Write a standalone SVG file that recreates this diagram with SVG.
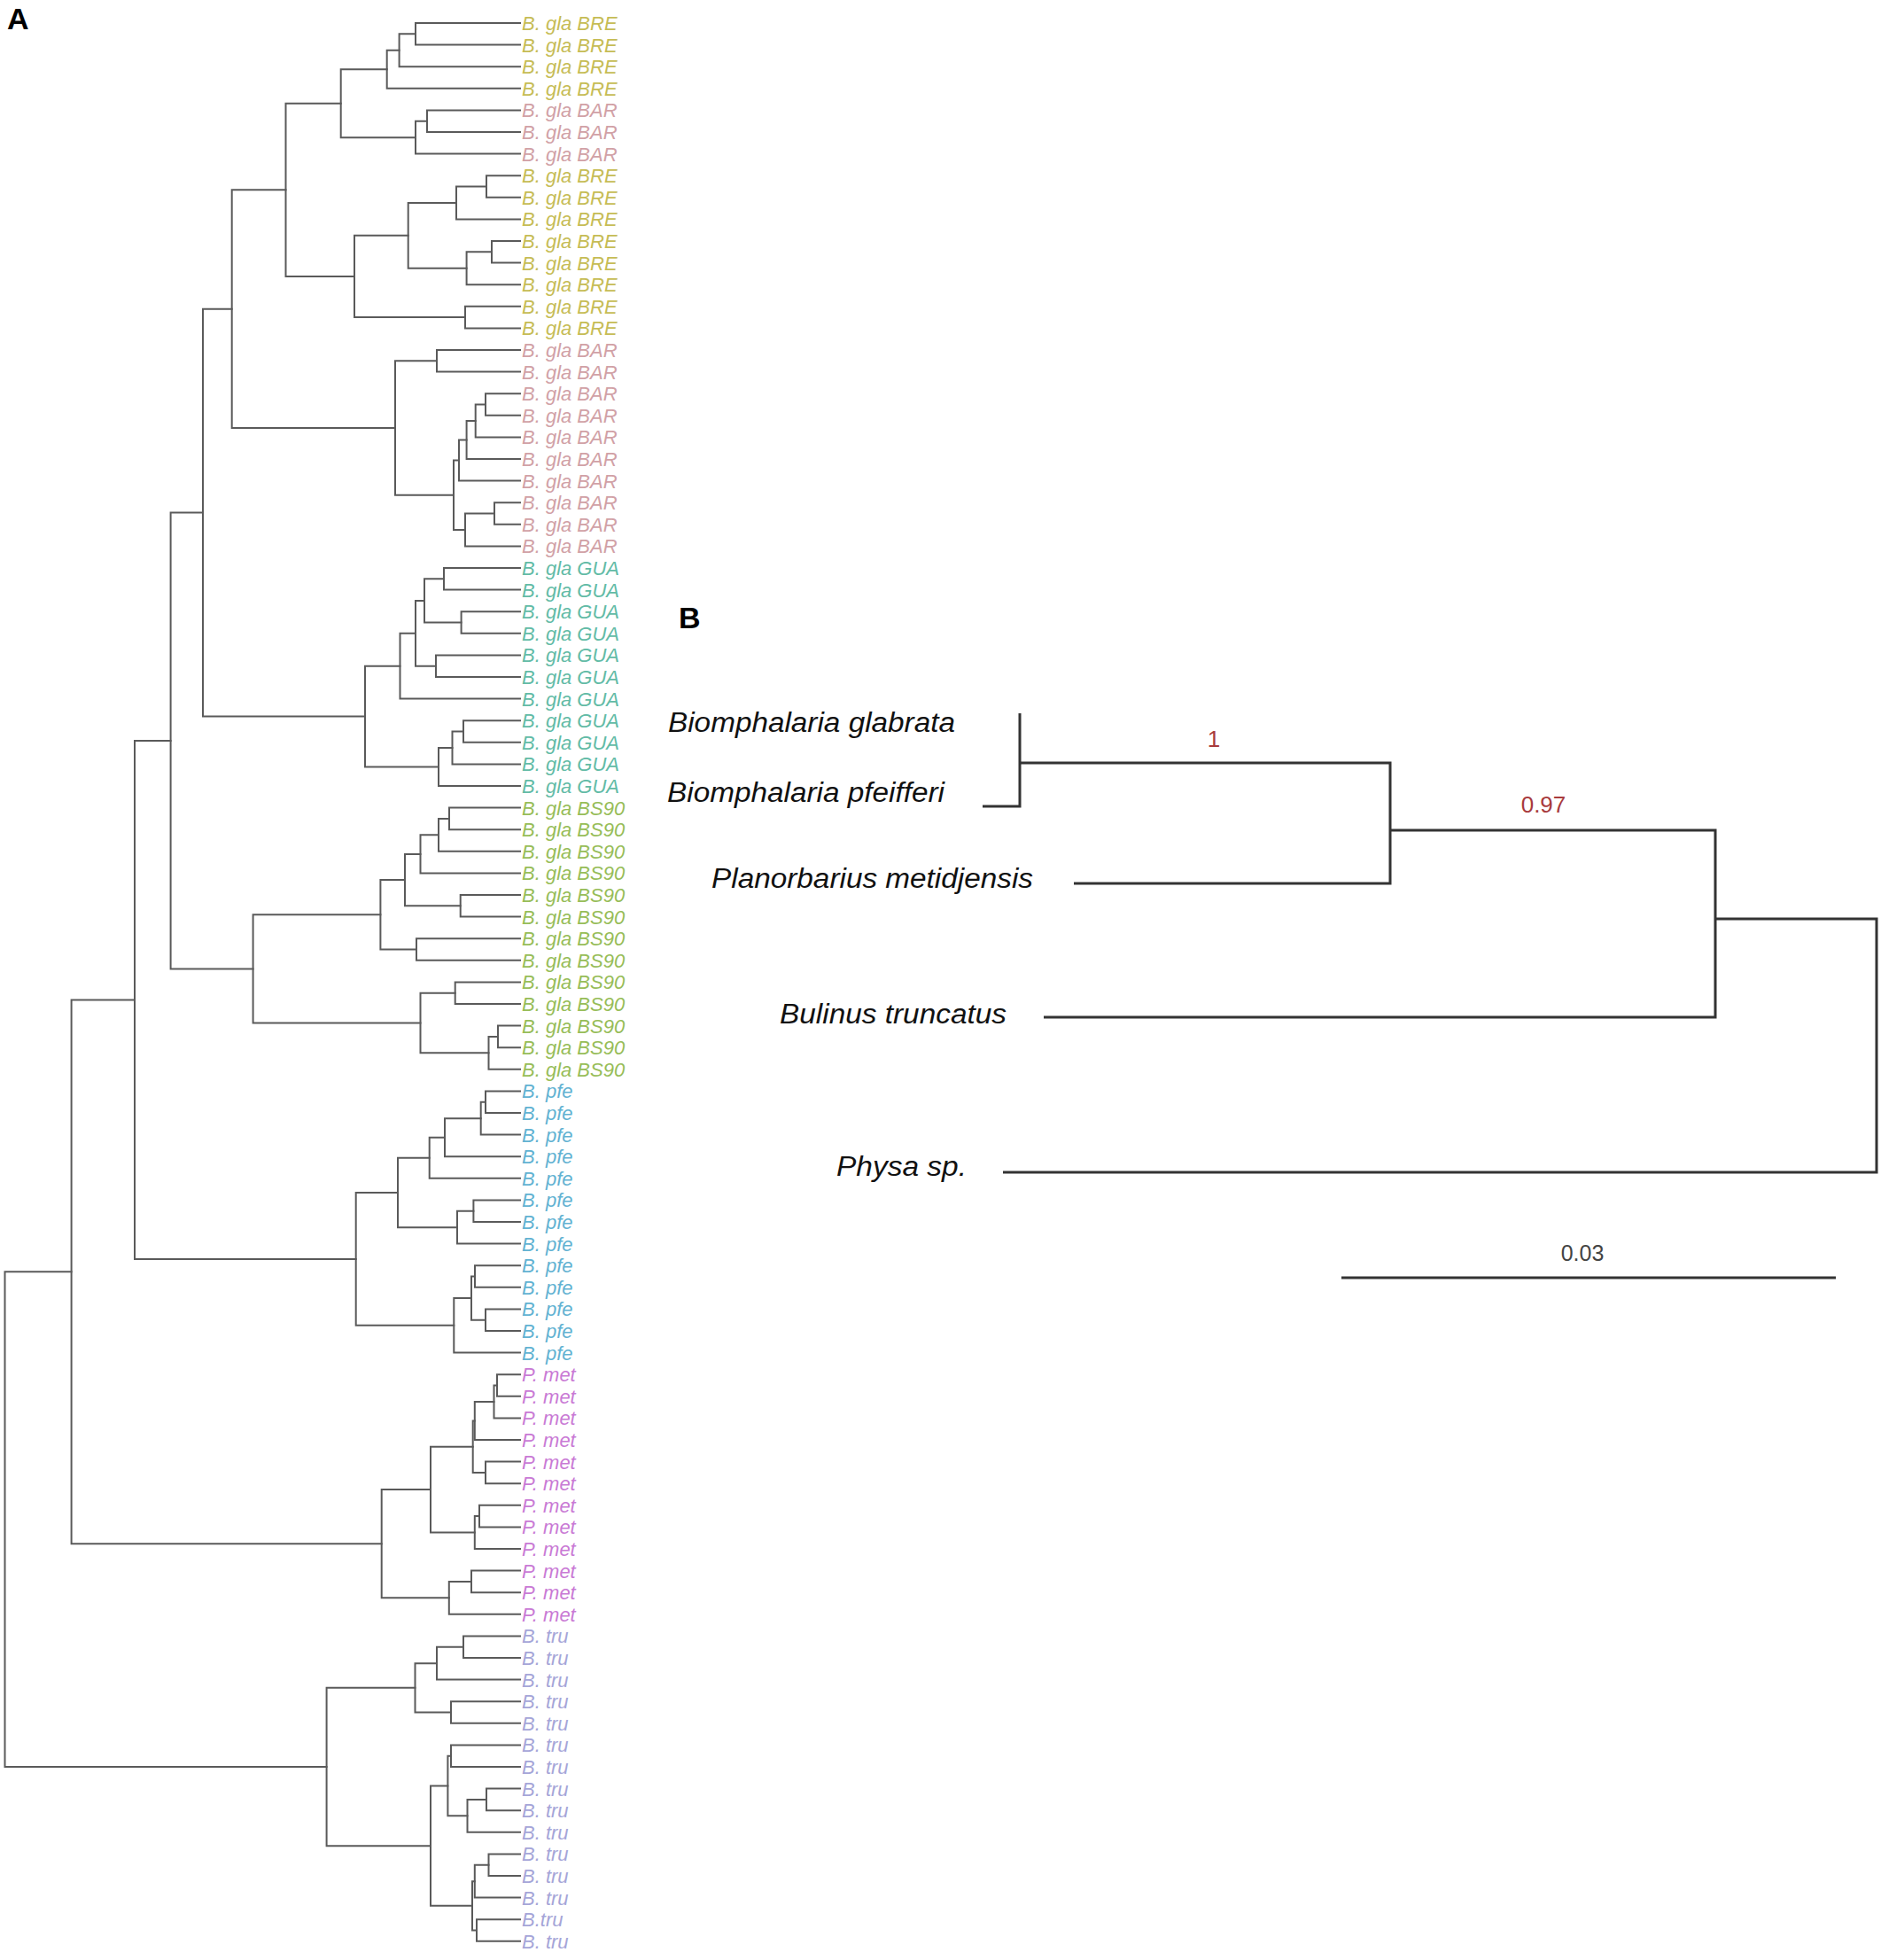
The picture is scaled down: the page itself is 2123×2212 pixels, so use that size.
<svg xmlns="http://www.w3.org/2000/svg" width="2123" height="2212" viewBox="0 0 2123 2212">
<style>
.bg{fill:#fff}
.tr{fill:none;stroke:#5a5a5a;stroke-width:2;stroke-linecap:square}
.trB{fill:none;stroke:#333;stroke-width:3}
.lf{font-family:"Liberation Sans",Arial,sans-serif;font-style:italic;font-size:22px}
.bre{fill:#c6bc55}.bar{fill:#d1a1a6}.gua{fill:#62bba6}.bs90{fill:#97bd58}.pfe{fill:#62b2d2}.met{fill:#c97ad5}.tru{fill:#a5a5d8}
.sp{font-family:"Liberation Sans",Arial,sans-serif;font-style:italic;font-size:31px;fill:#111}
.sup{font-family:"Liberation Sans",Arial,sans-serif;font-size:26px;fill:#a83a3c}
.pl{font-family:"Liberation Sans",Arial,sans-serif;font-weight:bold;font-size:34px;fill:#000}
.sc{font-family:"Liberation Sans",Arial,sans-serif;font-size:25px;fill:#444}
</style>
<rect class="bg" width="2123" height="2212"/>
<text class="pl" x="8" y="33">A</text>
<text class="pl" x="766" y="709">B</text>
<g id="connectors-A" class="tr">
<path d="M587 26H469V50.6H587"/>
<path d="M469 38.3H450.6V75.2H587"/>
<path d="M450.6 56.75H436.7V99.8H587"/>
<path d="M587 124.4H482V149H587"/>
<path d="M482 136.7H469V173.6H587"/>
<path d="M436.7 78.3H384.7V155.15H469"/>
<path d="M587 198.2H549V222.8H587"/>
<path d="M549 210.5H515V247.4H587"/>
<path d="M587 272H555V296.6H587"/>
<path d="M555 284.3H526.6V321.2H587"/>
<path d="M515 228.95H460.7V302.75H526.6"/>
<path d="M587 345.8H525V370.4H587"/>
<path d="M460.7 265.85H400V358.1H525"/>
<path d="M384.7 116.7H322.5V311.98H400"/>
<path d="M587 395H493V419.6H587"/>
<path d="M587 444.2H548V468.8H587"/>
<path d="M548 456.5H536.7V493.4H587"/>
<path d="M536.7 474.95H526.6V518H587"/>
<path d="M526.6 496.5H518V542.6H587"/>
<path d="M587 567.2H558V591.8H587"/>
<path d="M558 579.5H525V616.4H587"/>
<path d="M518 519.55H512V597.95H525"/>
<path d="M493 407.3H446V558.75H512"/>
<path d="M322.5 214.3H261.7V483H446"/>
<path d="M587 641H501V665.6H587"/>
<path d="M587 690.2H520.6V714.8H587"/>
<path d="M501 653.3H479V702.5H520.6"/>
<path d="M587 739.4H492V764H587"/>
<path d="M479 677.9H469V751.7H492"/>
<path d="M469 714.8H451.5V788.6H587"/>
<path d="M587 813.2H523V837.8H587"/>
<path d="M523 825.5H510.5V862.4H587"/>
<path d="M510.5 843.95H495V887H587"/>
<path d="M451.5 751.7H412V865.5H495"/>
<path d="M261.7 348.65H229V808.6H412"/>
<path d="M587 911.6H507V936.2H587"/>
<path d="M507 923.9H495V960.8H587"/>
<path d="M495 942.35H474.5V985.4H587"/>
<path d="M587 1010H519.7V1034.6H587"/>
<path d="M474.5 963.9H457V1022.3H519.7"/>
<path d="M587 1059.2H470V1083.8H587"/>
<path d="M457 993.1H429.4V1071.5H470"/>
<path d="M587 1108.4H513.7V1133H587"/>
<path d="M587 1157.6H562V1182.2H587"/>
<path d="M562 1169.9H551.5V1206.8H587"/>
<path d="M513.7 1120.7H474.5V1188.35H551.5"/>
<path d="M429.4 1032.3H285.6V1154.5H474.5"/>
<path d="M229 578.6H192.6V1093.4H285.6"/>
<path d="M587 1231.4H548V1256H587"/>
<path d="M548 1243.7H542.7V1280.6H587"/>
<path d="M542.7 1262.15H502V1305.2H587"/>
<path d="M502 1283.7H484.7V1329.8H587"/>
<path d="M587 1354.4H534.4V1379H587"/>
<path d="M534.4 1366.7H516V1403.6H587"/>
<path d="M484.7 1306.75H449V1385.15H516"/>
<path d="M587 1428.2H536V1452.8H587"/>
<path d="M587 1477.4H548V1502H587"/>
<path d="M536 1440.5H532V1489.7H548"/>
<path d="M532 1465.1H512.3V1526.6H587"/>
<path d="M449 1345.95H401.7V1495.85H512.3"/>
<path d="M192.6 836H152V1420.9H401.7"/>
<path d="M587 1551.2H561V1575.8H587"/>
<path d="M561 1563.5H557.5V1600.4H587"/>
<path d="M557.5 1581.95H535.8V1625H587"/>
<path d="M587 1649.6H548V1674.2H587"/>
<path d="M535.8 1603.5H533.7V1661.9H548"/>
<path d="M587 1698.8H541V1723.4H587"/>
<path d="M541 1711.1H535.8V1748H587"/>
<path d="M533.7 1632.7H486V1729.55H535.8"/>
<path d="M587 1772.6H532V1797.2H587"/>
<path d="M532 1784.9H506.8V1821.8H587"/>
<path d="M486 1681.1H430.7V1803.35H506.8"/>
<path d="M152 1128.45H80.6V1742.2H430.7"/>
<path d="M587 1846.4H523V1871H587"/>
<path d="M523 1858.7H493V1895.6H587"/>
<path d="M587 1920.2H509V1944.8H587"/>
<path d="M493 1877.15H468.5V1932.5H509"/>
<path d="M587 1969.4H509V1994H587"/>
<path d="M587 2018.6H549V2043.2H587"/>
<path d="M549 2030.9H527.5V2067.8H587"/>
<path d="M509 1981.7H505.4V2049.35H527.5"/>
<path d="M587 2092.4H551.5V2117H587"/>
<path d="M551.5 2104.7H535.8V2141.6H587"/>
<path d="M587 2166.2H538V2190.8H587"/>
<path d="M535.8 2123.15H533V2178.5H538"/>
<path d="M505.4 2015.5H486V2150.8H533"/>
<path d="M468.5 1904.8H368.6V2083.15H486"/>
<path d="M80.6 1435.3H5.5V1994H368.6"/>
</g>
<g id="leaves-A" class="lf">
<g id="leaf-0"><text class="bre" x="589" y="34">B. gla BRE</text></g>
<g id="leaf-1"><text class="bre" x="589" y="58.6">B. gla BRE</text></g>
<g id="leaf-2"><text class="bre" x="589" y="83.2">B. gla BRE</text></g>
<g id="leaf-3"><text class="bre" x="589" y="107.8">B. gla BRE</text></g>
<g id="leaf-4"><text class="bar" x="589" y="132.4">B. gla BAR</text></g>
<g id="leaf-5"><text class="bar" x="589" y="157">B. gla BAR</text></g>
<g id="leaf-6"><text class="bar" x="589" y="181.6">B. gla BAR</text></g>
<g id="leaf-7"><text class="bre" x="589" y="206.2">B. gla BRE</text></g>
<g id="leaf-8"><text class="bre" x="589" y="230.8">B. gla BRE</text></g>
<g id="leaf-9"><text class="bre" x="589" y="255.4">B. gla BRE</text></g>
<g id="leaf-10"><text class="bre" x="589" y="280">B. gla BRE</text></g>
<g id="leaf-11"><text class="bre" x="589" y="304.6">B. gla BRE</text></g>
<g id="leaf-12"><text class="bre" x="589" y="329.2">B. gla BRE</text></g>
<g id="leaf-13"><text class="bre" x="589" y="353.8">B. gla BRE</text></g>
<g id="leaf-14"><text class="bre" x="589" y="378.4">B. gla BRE</text></g>
<g id="leaf-15"><text class="bar" x="589" y="403">B. gla BAR</text></g>
<g id="leaf-16"><text class="bar" x="589" y="427.6">B. gla BAR</text></g>
<g id="leaf-17"><text class="bar" x="589" y="452.2">B. gla BAR</text></g>
<g id="leaf-18"><text class="bar" x="589" y="476.8">B. gla BAR</text></g>
<g id="leaf-19"><text class="bar" x="589" y="501.4">B. gla BAR</text></g>
<g id="leaf-20"><text class="bar" x="589" y="526">B. gla BAR</text></g>
<g id="leaf-21"><text class="bar" x="589" y="550.6">B. gla BAR</text></g>
<g id="leaf-22"><text class="bar" x="589" y="575.2">B. gla BAR</text></g>
<g id="leaf-23"><text class="bar" x="589" y="599.8">B. gla BAR</text></g>
<g id="leaf-24"><text class="bar" x="589" y="624.4">B. gla BAR</text></g>
<g id="leaf-25"><text class="gua" x="589" y="649">B. gla GUA</text></g>
<g id="leaf-26"><text class="gua" x="589" y="673.6">B. gla GUA</text></g>
<g id="leaf-27"><text class="gua" x="589" y="698.2">B. gla GUA</text></g>
<g id="leaf-28"><text class="gua" x="589" y="722.8">B. gla GUA</text></g>
<g id="leaf-29"><text class="gua" x="589" y="747.4">B. gla GUA</text></g>
<g id="leaf-30"><text class="gua" x="589" y="772">B. gla GUA</text></g>
<g id="leaf-31"><text class="gua" x="589" y="796.6">B. gla GUA</text></g>
<g id="leaf-32"><text class="gua" x="589" y="821.2">B. gla GUA</text></g>
<g id="leaf-33"><text class="gua" x="589" y="845.8">B. gla GUA</text></g>
<g id="leaf-34"><text class="gua" x="589" y="870.4">B. gla GUA</text></g>
<g id="leaf-35"><text class="gua" x="589" y="895">B. gla GUA</text></g>
<g id="leaf-36"><text class="bs90" x="589" y="919.6">B. gla BS90</text></g>
<g id="leaf-37"><text class="bs90" x="589" y="944.2">B. gla BS90</text></g>
<g id="leaf-38"><text class="bs90" x="589" y="968.8">B. gla BS90</text></g>
<g id="leaf-39"><text class="bs90" x="589" y="993.4">B. gla BS90</text></g>
<g id="leaf-40"><text class="bs90" x="589" y="1018">B. gla BS90</text></g>
<g id="leaf-41"><text class="bs90" x="589" y="1042.6">B. gla BS90</text></g>
<g id="leaf-42"><text class="bs90" x="589" y="1067.2">B. gla BS90</text></g>
<g id="leaf-43"><text class="bs90" x="589" y="1091.8">B. gla BS90</text></g>
<g id="leaf-44"><text class="bs90" x="589" y="1116.4">B. gla BS90</text></g>
<g id="leaf-45"><text class="bs90" x="589" y="1141">B. gla BS90</text></g>
<g id="leaf-46"><text class="bs90" x="589" y="1165.6">B. gla BS90</text></g>
<g id="leaf-47"><text class="bs90" x="589" y="1190.2">B. gla BS90</text></g>
<g id="leaf-48"><text class="bs90" x="589" y="1214.8">B. gla BS90</text></g>
<g id="leaf-49"><text class="pfe" x="589" y="1239.4">B. pfe</text></g>
<g id="leaf-50"><text class="pfe" x="589" y="1264">B. pfe</text></g>
<g id="leaf-51"><text class="pfe" x="589" y="1288.6">B. pfe</text></g>
<g id="leaf-52"><text class="pfe" x="589" y="1313.2">B. pfe</text></g>
<g id="leaf-53"><text class="pfe" x="589" y="1337.8">B. pfe</text></g>
<g id="leaf-54"><text class="pfe" x="589" y="1362.4">B. pfe</text></g>
<g id="leaf-55"><text class="pfe" x="589" y="1387">B. pfe</text></g>
<g id="leaf-56"><text class="pfe" x="589" y="1411.6">B. pfe</text></g>
<g id="leaf-57"><text class="pfe" x="589" y="1436.2">B. pfe</text></g>
<g id="leaf-58"><text class="pfe" x="589" y="1460.8">B. pfe</text></g>
<g id="leaf-59"><text class="pfe" x="589" y="1485.4">B. pfe</text></g>
<g id="leaf-60"><text class="pfe" x="589" y="1510">B. pfe</text></g>
<g id="leaf-61"><text class="pfe" x="589" y="1534.6">B. pfe</text></g>
<g id="leaf-62"><text class="met" x="589" y="1559.2">P. met</text></g>
<g id="leaf-63"><text class="met" x="589" y="1583.8">P. met</text></g>
<g id="leaf-64"><text class="met" x="589" y="1608.4">P. met</text></g>
<g id="leaf-65"><text class="met" x="589" y="1633">P. met</text></g>
<g id="leaf-66"><text class="met" x="589" y="1657.6">P. met</text></g>
<g id="leaf-67"><text class="met" x="589" y="1682.2">P. met</text></g>
<g id="leaf-68"><text class="met" x="589" y="1706.8">P. met</text></g>
<g id="leaf-69"><text class="met" x="589" y="1731.4">P. met</text></g>
<g id="leaf-70"><text class="met" x="589" y="1756">P. met</text></g>
<g id="leaf-71"><text class="met" x="589" y="1780.6">P. met</text></g>
<g id="leaf-72"><text class="met" x="589" y="1805.2">P. met</text></g>
<g id="leaf-73"><text class="met" x="589" y="1829.8">P. met</text></g>
<g id="leaf-74"><text class="tru" x="589" y="1854.4">B. tru</text></g>
<g id="leaf-75"><text class="tru" x="589" y="1879">B. tru</text></g>
<g id="leaf-76"><text class="tru" x="589" y="1903.6">B. tru</text></g>
<g id="leaf-77"><text class="tru" x="589" y="1928.2">B. tru</text></g>
<g id="leaf-78"><text class="tru" x="589" y="1952.8">B. tru</text></g>
<g id="leaf-79"><text class="tru" x="589" y="1977.4">B. tru</text></g>
<g id="leaf-80"><text class="tru" x="589" y="2002">B. tru</text></g>
<g id="leaf-81"><text class="tru" x="589" y="2026.6">B. tru</text></g>
<g id="leaf-82"><text class="tru" x="589" y="2051.2">B. tru</text></g>
<g id="leaf-83"><text class="tru" x="589" y="2075.8">B. tru</text></g>
<g id="leaf-84"><text class="tru" x="589" y="2100.4">B. tru</text></g>
<g id="leaf-85"><text class="tru" x="589" y="2125">B. tru</text></g>
<g id="leaf-86"><text class="tru" x="589" y="2149.6">B. tru</text></g>
<g id="leaf-87"><text class="tru" x="589" y="2174.2">B.tru</text></g>
<g id="leaf-88"><text class="tru" x="589" y="2198.8">B. tru</text></g>
</g>
<g id="connectors-B" class="trB">
<path d="M1151 805V910H1109"/>
<path d="M1151 861H1569V997H1212"/>
<path d="M1569 937H1936V1148H1178"/>
<path d="M1936 1037H2118V1323H1132"/>
<path d="M1514 1442H2072"/>
</g>
<g id="node-glabrata"><text class="sp" x="754" y="826" textLength="324" lengthAdjust="spacingAndGlyphs">Biomphalaria glabrata</text></g>
<g id="node-pfeifferi"><text class="sp" x="753" y="905" textLength="313" lengthAdjust="spacingAndGlyphs">Biomphalaria pfeifferi</text></g>
<g id="node-planorbarius"><text class="sp" x="803" y="1002" textLength="363" lengthAdjust="spacingAndGlyphs">Planorbarius metidjensis</text></g>
<g id="node-bulinus"><text class="sp" x="880" y="1155" textLength="256" lengthAdjust="spacingAndGlyphs">Bulinus truncatus</text></g>
<g id="node-physa"><text class="sp" x="944" y="1327" textLength="147" lengthAdjust="spacingAndGlyphs">Physa sp.</text></g>
<g id="support-1"><text class="sup" x="1370" y="843" text-anchor="middle">1</text></g>
<g id="support-097"><text class="sup" x="1742" y="917" text-anchor="middle">0.97</text></g>
<g id="scale"><text class="sc" x="1786" y="1423" text-anchor="middle">0.03</text></g>
</svg>
